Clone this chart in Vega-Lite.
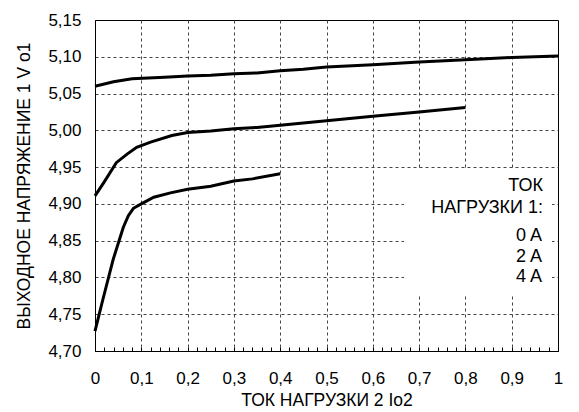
{
  "$schema": "https://vega.github.io/schema/vega-lite/v6.json",
  "width": 463,
  "height": 331,
  "autosize": "none",
  "padding": {"left": 95, "top": 20, "right": 21, "bottom": 61},
  "background": "white",
  "config": {
    "font": "Liberation Sans",
    "view": {"stroke": "black", "strokeWidth": 1}
  },
  "data": {
    "values": [
      {"x": 0, "v": 5.060, "load": "0 A"},
      {"x": 0.04, "v": 5.066, "load": "0 A"},
      {"x": 0.08, "v": 5.070, "load": "0 A"},
      {"x": 0.15, "v": 5.072, "load": "0 A"},
      {"x": 0.2, "v": 5.074, "load": "0 A"},
      {"x": 0.25, "v": 5.075, "load": "0 A"},
      {"x": 0.3, "v": 5.077, "load": "0 A"},
      {"x": 0.35, "v": 5.078, "load": "0 A"},
      {"x": 0.4, "v": 5.081, "load": "0 A"},
      {"x": 0.45, "v": 5.083, "load": "0 A"},
      {"x": 0.5, "v": 5.086, "load": "0 A"},
      {"x": 0.6, "v": 5.089, "load": "0 A"},
      {"x": 0.7, "v": 5.093, "load": "0 A"},
      {"x": 0.8, "v": 5.096, "load": "0 A"},
      {"x": 0.9, "v": 5.099, "load": "0 A"},
      {"x": 1.0, "v": 5.101, "load": "0 A"},
      {"x": 0, "v": 4.911, "load": "2 A"},
      {"x": 0.02, "v": 4.930, "load": "2 A"},
      {"x": 0.046, "v": 4.956, "load": "2 A"},
      {"x": 0.07, "v": 4.968, "load": "2 A"},
      {"x": 0.09, "v": 4.977, "load": "2 A"},
      {"x": 0.12, "v": 4.984, "load": "2 A"},
      {"x": 0.166, "v": 4.993, "load": "2 A"},
      {"x": 0.2, "v": 4.997, "load": "2 A"},
      {"x": 0.25, "v": 4.999, "load": "2 A"},
      {"x": 0.3, "v": 5.002, "load": "2 A"},
      {"x": 0.35, "v": 5.004, "load": "2 A"},
      {"x": 0.4, "v": 5.007, "load": "2 A"},
      {"x": 0.45, "v": 5.010, "load": "2 A"},
      {"x": 0.5, "v": 5.013, "load": "2 A"},
      {"x": 0.6, "v": 5.019, "load": "2 A"},
      {"x": 0.7, "v": 5.025, "load": "2 A"},
      {"x": 0.8, "v": 5.031, "load": "2 A"},
      {"x": 0, "v": 4.727, "load": "4 A"},
      {"x": 0.017, "v": 4.770, "load": "4 A"},
      {"x": 0.039, "v": 4.824, "load": "4 A"},
      {"x": 0.061, "v": 4.868, "load": "4 A"},
      {"x": 0.072, "v": 4.884, "load": "4 A"},
      {"x": 0.083, "v": 4.894, "load": "4 A"},
      {"x": 0.1, "v": 4.900, "load": "4 A"},
      {"x": 0.127, "v": 4.909, "load": "4 A"},
      {"x": 0.163, "v": 4.915, "load": "4 A"},
      {"x": 0.2, "v": 4.920, "load": "4 A"},
      {"x": 0.25, "v": 4.924, "load": "4 A"},
      {"x": 0.3, "v": 4.931, "load": "4 A"},
      {"x": 0.34, "v": 4.934, "load": "4 A"},
      {"x": 0.4, "v": 4.941, "load": "4 A"}
    ]
  },
  "mark": {"type": "line", "strokeWidth": 3, "interpolate": "linear"},
  "encoding": {
    "x": {
      "field": "x",
      "type": "quantitative",
      "scale": {"domain": [0, 1], "nice": false, "zero": false},
      "axis": {
        "values": [0, 0.02, 0.04, 0.06, 0.08, 0.1, 0.12, 0.14, 0.16, 0.18, 0.2, 0.22, 0.24, 0.26, 0.28, 0.3, 0.32, 0.34, 0.36, 0.38, 0.4, 0.42, 0.44, 0.46, 0.48, 0.5, 0.52, 0.54, 0.56, 0.58, 0.6, 0.62, 0.64, 0.66, 0.68, 0.7, 0.72, 0.74, 0.76, 0.78, 0.8, 0.82, 0.84, 0.86, 0.88, 0.9, 0.92, 0.94, 0.96, 0.98, 1],
        "title": "ТОК НАГРУЗКИ 2 Io2",
        "titleFontSize": 17.5,
        "titleFontWeight": "normal",
        "titleColor": "black",
        "titlePadding": 5,
        "grid": true,
        "gridDash": [3, 3],
        "gridColor": "#444",
        "gridOpacity": {"condition": {"test": "abs(datum.value*10 - round(datum.value*10)) < 0.001 && datum.value > 0.001 && datum.value < 0.999", "value": 1}, "value": 0},
        "ticks": true,
        "tickSize": -4,
        "tickColor": "black",
        "domainColor": "black",
        "labelExpr": "abs(datum.value*10 - round(datum.value*10)) < 0.001 ? (datum.value < 0.001 ? '0' : datum.value > 0.999 ? '1' : replace(format(datum.value, '.1f'), '.', ',')) : ''",
        "labelFontSize": 17,
        "labelColor": "black",
        "labelPadding": 23,
        "labelFlush": false,
        "labelOverlap": false
      }
    },
    "y": {
      "field": "v",
      "type": "quantitative",
      "scale": {"domain": [4.7, 5.15], "nice": false, "zero": false},
      "axis": {
        "values": [4.7, 4.75, 4.8, 4.85, 4.9, 4.95, 5.0, 5.05, 5.1, 5.15],
        "title": "ВЫХОДНОЕ НАПРЯЖЕНИЕ 1 V o1",
        "titleFontSize": 17.5,
        "titleFontWeight": "normal",
        "titleColor": "black",
        "titlePadding": 14,
        "grid": true,
        "gridDash": [3, 3],
        "gridColor": "#444",
        "gridOpacity": {"condition": {"test": "datum.value > 4.701 && datum.value < 5.149", "value": 1}, "value": 0},
        "ticks": false,
        "domainColor": "black",
        "labelExpr": "replace(format(datum.value, '.2f'), '.', ',')",
        "labelFontSize": 17,
        "labelColor": "black",
        "labelPadding": 14,
        "labelFlush": false,
        "labelOverlap": false
      }
    },
    "color": {
      "field": "load",
      "type": "nominal",
      "scale": {"domain": ["0 A", "2 A", "4 A"], "range": ["black", "black", "black"]},
      "legend": {
        "orient": "none",
        "legendX": 309,
        "legendY": 149,
        "title": ["ТОК", "НАГРУЗКИ 1:"],
        "titleAnchor": "end",
        "titleAlign": "right",
        "titleFontSize": 18,
        "titleFontWeight": "normal",
        "titleColor": "black",
        "titleLineHeight": 22,
        "titlePadding": 10,
        "labelFontSize": 18,
        "labelColor": "black",
        "labelOffset": 86,
        "symbolSize": 0,
        "symbolOpacity": 0,
        "symbolStrokeWidth": 0,
        "rowPadding": 2.5,
        "fillColor": "white",
        "padding": 8
      }
    }
  }
}
